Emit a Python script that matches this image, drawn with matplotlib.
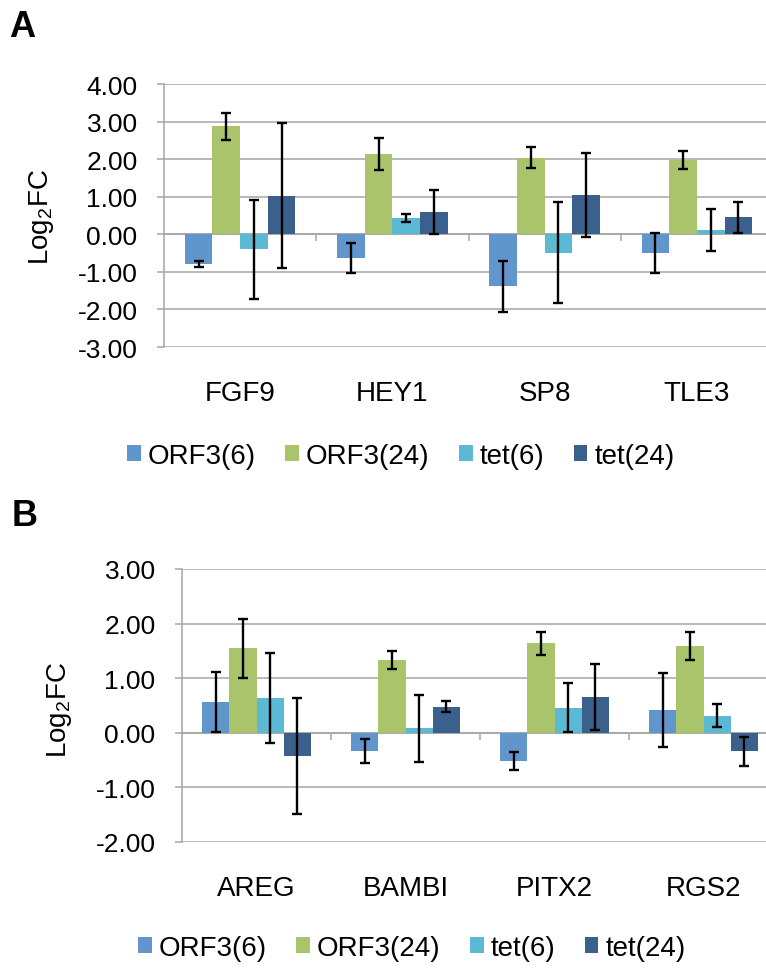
import numpy as np
import matplotlib
matplotlib.use("Agg")
import matplotlib.pyplot as plt

plt.rcParams['font.family'] = ['Liberation Sans', 'DejaVu Sans']
plt.rcParams['mathtext.default'] = 'regular'

series = ['ORF3(6)', 'ORF3(24)', 'tet(6)', 'tet(24)']
colors = ['#6096CC', '#A9C46B', '#5BB9D3', '#3A608B']

# panel A
genes_a = ['FGF9', 'HEY1', 'SP8', 'TLE3']
vals_a = [
    [-0.79, -0.64, -1.38, -0.49],   # ORF3(6)
    [2.88, 2.14, 2.04, 1.99],       # ORF3(24)
    [-0.40, 0.43, -0.49, 0.12],     # tet(6)
    [1.02, 0.60, 1.04, 0.45],       # tet(24)
]
err_a = [
    [0.08, 0.40, 0.68, 0.53],
    [0.36, 0.42, 0.28, 0.24],
    [1.31, 0.10, 1.34, 0.56],
    [1.93, 0.58, 1.12, 0.42],
]
yticks_a = [-3, -2, -1, 0, 1, 2, 3, 4]

# panel B
genes_b = ['AREG', 'BAMBI', 'PITX2', 'RGS2']
vals_b = [
    [0.56, -0.34, -0.52, 0.42],
    [1.55, 1.33, 1.64, 1.59],
    [0.64, 0.08, 0.46, 0.31],
    [-0.42, 0.48, 0.66, -0.34],
]
err_b = [
    [0.55, 0.22, 0.17, 0.68],
    [0.54, 0.16, 0.21, 0.25],
    [0.83, 0.61, 0.45, 0.21],
    [1.06, 0.10, 0.60, 0.27],
]
yticks_b = [-2, -1, 0, 1, 2, 3]

W, H = 766, 970
fig = plt.figure(figsize=(W / 100, H / 100), dpi=100)
grid_col = '#A6A6A6'
fs = 19      # value axis
fs_cat = 20  # categories, legend, axis title


def draw_panel(rect, genes, vals, errs, yticks):
    ax = fig.add_axes(rect)
    x = np.arange(len(genes))
    w = 1 / 5.5
    for i, (v, e) in enumerate(zip(vals, errs)):
        ax.bar(x + (i - 1.5) * w, v, width=w, color=colors[i], label=series[i],
               zorder=2)
        ax.errorbar(x + (i - 1.5) * w, v, yerr=e, fmt='none', ecolor='black',
                    elinewidth=1.7, capsize=3.8, capthick=1.7, zorder=3)
    ax.set_xlim(-0.5, len(genes) - 0.5)
    ax.set_ylim(yticks[0], yticks[-1])
    ax.set_yticks(yticks, labels=['%.2f' % t for t in yticks])
    ax.set_xticks(x, labels=genes)
    ax.tick_params(axis='x', length=0, pad=24, labelsize=fs_cat)
    ax.tick_params(axis='y', length=5, width=1.1, color=grid_col, pad=14,
                   labelsize=fs, direction='out')
    ax.yaxis.grid(True, color=grid_col, linewidth=1.1, zorder=0)
    ax.set_axisbelow(True)
    for s in ['top', 'right', 'bottom']:
        ax.spines[s].set_visible(False)
    ax.spines['left'].set_color(grid_col)
    ax.spines['left'].set_linewidth(1.1)

    # category axis at zero with separator ticks
    loc = (0 - yticks[0]) / (yticks[-1] - yticks[0])
    sec = ax.secondary_xaxis(loc)
    sec.set_xticks(x[:-1] + 0.5, labels=[])
    sec.tick_params(length=5, width=1.1, color=grid_col, direction='out')
    for s in sec.spines.values():
        s.set_color(grid_col)
        s.set_linewidth(1.1)
    return ax


ax_a = draw_panel([164 / W, 1 - 348 / H, 609 / W, 263 / H],
                  genes_a, vals_a, err_a, yticks_a)
ax_b = draw_panel([182 / W, 1 - 843 / H, 596 / W, 273 / H],
                  genes_b, vals_b, err_b, yticks_b)

fig.text(42 / W, 1 - 217 / H, 'Log$_2$FC', rotation=90, ha='center',
         va='center', fontsize=fs_cat)
fig.text(60 / W, 1 - 710 / H, 'Log$_2$FC', rotation=90, ha='center',
         va='center', fontsize=fs_cat)
fig.text(9 / W, 1 - 10 / H, 'A', fontsize=26, fontweight='bold', va='top')
fig.text(12 / W, 1 - 499 / H, 'B', fontsize=26, fontweight='bold', va='top')

handles, labels = ax_a.get_legend_handles_labels()
leg_kw = dict(ncol=4, frameon=False, fontsize=fs_cat, handlelength=0.5,
              handleheight=0.5, handletextpad=0.25, columnspacing=1.05,
              borderpad=0, borderaxespad=0, loc='center left')
fig.legend(handles, labels, bbox_to_anchor=(127 / W, 1 - 457 / H), **leg_kw)
fig.legend(handles, labels, bbox_to_anchor=(138 / W, 1 - 949 / H), **leg_kw)

fig.savefig('out.png', dpi=100)
